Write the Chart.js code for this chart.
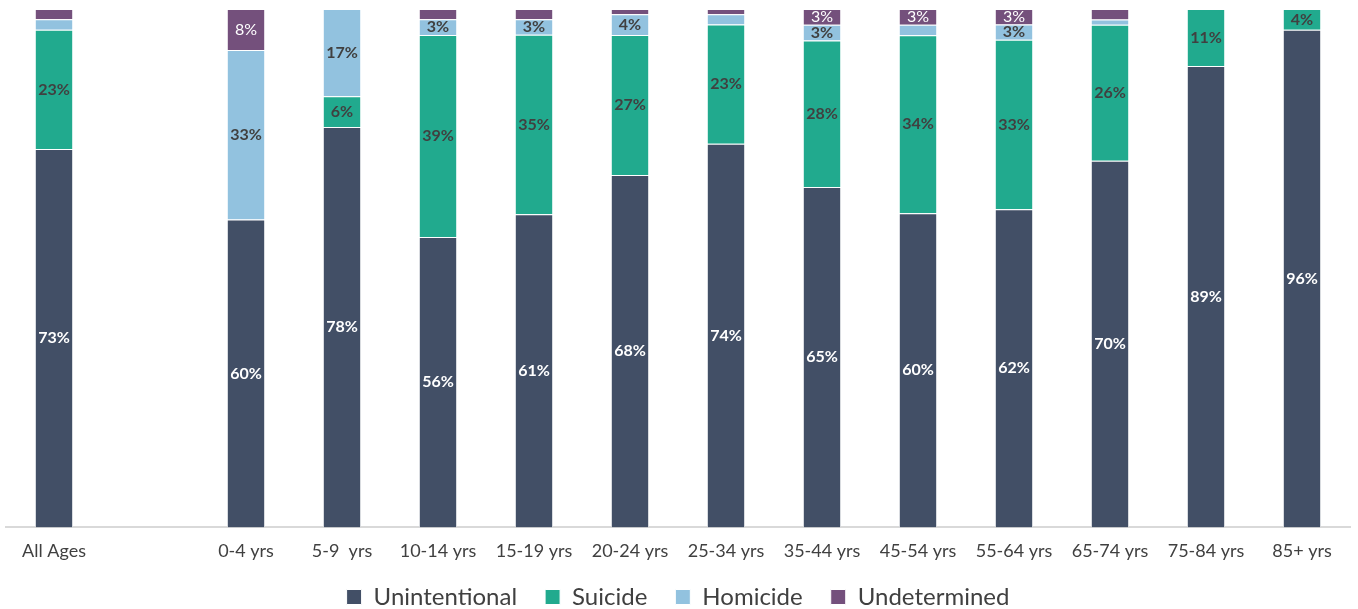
<!DOCTYPE html>
<html>
<head>
<meta charset="utf-8">
<script src="https://cdn.jsdelivr.net/npm/chart.js@4.4.1/dist/chart.umd.min.js"></script>
<style>
  html, body { margin: 0; padding: 0; background: #fff; }
  #wrap { width: 1358px; height: 609px; }
</style>
</head>
<body>
<div id="wrap"><canvas id="chart"></canvas></div>
<script>
const categories = ['All Ages', '', '0-4 yrs', '5-9  yrs', '10-14 yrs', '15-19 yrs', '20-24 yrs', '25-34 yrs',
    '35-44 yrs', '45-54 yrs', '55-64 yrs', '65-74 yrs', '75-84 yrs', '85+ yrs'];
const unintentional = [73, null, 60, 78, 56, 61, 68, 74, 65, 60, 62, 70, 89, 96];
const suicide       = [23, null, 0, 6, 39, 35, 27, 23, 28, 34, 33, 26, 11, 4];
const homicide      = [2, null, 33, 17, 3, 3, 4, 2, 3, 2, 3, 1, 0, 0];
const undetermined  = [2, null, 8, 0, 2, 2, 1, 1, 3, 3, 3, 2, 0, 0];

const series = [
    ['Unintentional', unintentional, '#424f66', '#ffffff', 'bold'],
    ['Suicide', suicide, '#21aa8e', '#404040', 'bold'],
    ['Homicide', homicide, '#92c2df', '#404040', 'bold'],
    ['Undetermined', undetermined, '#74507c', '#ffffff', 'normal'],
];

// 100% stacked: each column is scaled to its own total
const totals = categories.map((c, i) => series.reduce((s, x) => s + (x[1][i] || 0), 0));

const labelPlugin = {
    id: 'segLabels',
    afterDatasetsDraw(chart) {
        const ctx = chart.ctx;
        ctx.save();
        ctx.textAlign = 'center';
        ctx.textBaseline = 'middle';
        chart.data.datasets.forEach((ds, di) => {
            chart.getDatasetMeta(di).data.forEach((el, i) => {
                const raw = ds.raw[i];
                if (raw == null || raw < 3) return;
                ctx.fillStyle = ds.labelColor;
                ctx.font = ds.labelWeight + ' 16px Lato';
                ctx.fillText(raw + '%', el.x, (el.y + el.base) / 2);
            });
        });
        ctx.restore();
    }
};

new Chart(document.getElementById('chart'), {
    type: 'bar',
    data: {
        labels: categories,
        datasets: series.map(([name, vals, color, labelColor, labelWeight]) => ({
            label: name,
            raw: vals,
            data: vals.map((v, i) => v == null ? null : v / totals[i] * 100),
            backgroundColor: color,
            borderColor: '#ffffff',
            borderWidth: 1,
            labelColor, labelWeight,
            categoryPercentage: 1,
            barPercentage: 0.4,
        })),
    },
    options: {
        responsive: true,
        maintainAspectRatio: false,
        animation: false,
        layout: { padding: { left: 6, right: 8, top: 9, bottom: -10 } },
        plugins: {
            legend: {
                position: 'bottom',
                labels: {
                    boxWidth: 15, boxHeight: 15, padding: 10, color: '#404040',
                    font: { family: 'Lato', size: 24 },
                    // wider gap between items than the vertical padding allows
                    generateLabels(chart) {
                        const items = Chart.defaults.plugins.legend.labels.generateLabels(chart);
                        items.forEach((it, i) => { if (i < items.length - 1) it.text += '\u2003'; });
                        return items;
                    },
                },
            },
            tooltip: { enabled: false },
        },
        scales: {
            x: {
                stacked: true,
                grid: { display: false, drawTicks: false },
                border: { color: '#d9d9d9', width: 2 },
                ticks: { color: '#404040', padding: 13, autoSkip: false, maxRotation: 0, font: { family: 'Lato', size: 18 } },
            },
            y: { stacked: true, display: false, min: 0, max: 100 },
        },
    },
    plugins: [labelPlugin],
});
</script>
</body>
</html>
